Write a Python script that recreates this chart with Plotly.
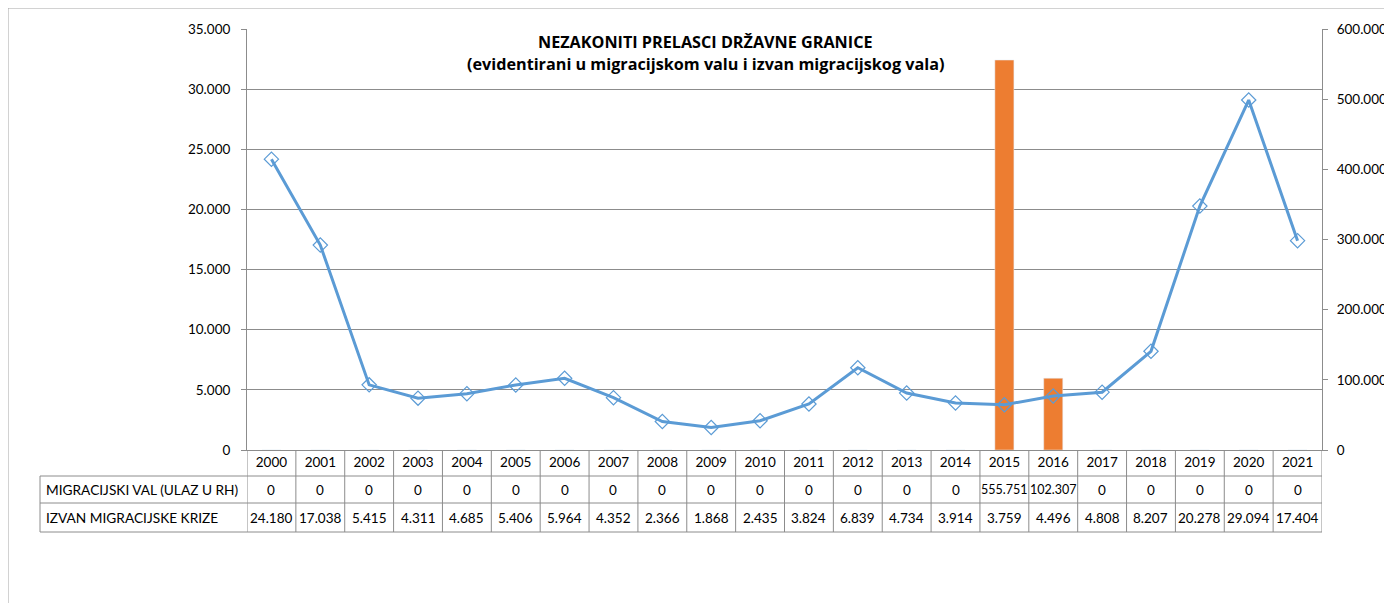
import plotly.graph_objects as go

years = [str(y) for y in range(2000, 2022)]
migracijski_val = [0] * 15 + [555751, 102307] + [0] * 5
izvan_krize = [24180, 17038, 5415, 4311, 4685, 5406, 5964, 4352, 2366, 1868, 2435,
               3824, 6839, 4734, 3914, 3759, 4496, 4808, 8207, 20278, 29094, 17404]
row_labels = ["MIGRACIJSKI VAL (ULAZ U RH)", "IZVAN MIGRACIJSKE KRIZE"]
title_lines = ["NEZAKONITI PRELASCI DRŽAVNE GRANICE",
               "(evidentirani u migracijskom valu i izvan migracijskog vala)"]

FONT = "Lato, Open Sans, sans-serif"
GRID = "#8c8c8c"
BLUE = "#5B9BD5"
ORANGE = "#ED7D31"

# page body has an 8px margin, so the figure is drawn 8px in from the window edge
OFF = 8
W, H = 1392 - OFF, 603 - OFF
ML, MT = 247 - OFF, 29 - OFF
PW, PH = 1075, 421
MR, MB = W - ML - PW, H - MT - PH


def py(px):  # window pixel row -> paper y
    return (450 - px) / PH


def pxx(px):  # window pixel col -> paper x
    return (px - 247) / PW


def fmt(v):
    return f"{v:,}".replace(",", ".")


fig = go.Figure()

# bars on the right-hand (primary) axis so the line overlay sits on top
fig.add_trace(go.Bar(x=years, y=migracijski_val, name=row_labels[0],
                     marker=dict(color=ORANGE), width=0.39, yaxis="y"))
fig.add_trace(go.Scatter(x=years, y=izvan_krize, name=row_labels[1], yaxis="y2",
                         mode="lines+markers",
                         line=dict(color=BLUE, width=3),
                         marker=dict(symbol="diamond-open", size=11, color=BLUE,
                                     line=dict(width=1.2, color=BLUE))))

shapes = []
# table rows: header (years) / val / izvan
row_edges = [450, 476, 503, 532]
left_edge = pxx(40)
n = len(years)
for i in range(n + 1):
    shapes.append(dict(type="line", xref="x", yref="paper", x0=i - 0.5, x1=i - 0.5,
                       y0=py(row_edges[0]), y1=py(row_edges[-1]),
                       line=dict(color=GRID, width=1)))
for e in row_edges[1:]:
    shapes.append(dict(type="line", xref="paper", yref="paper", x0=left_edge, x1=1,
                       y0=py(e), y1=py(e), line=dict(color=GRID, width=1)))
shapes.append(dict(type="line", xref="paper", yref="paper", x0=left_edge, x1=left_edge,
                   y0=py(row_edges[1]), y1=py(row_edges[-1]),
                   line=dict(color=GRID, width=1)))
# outer chart frame
shapes.append(dict(type="rect", xref="paper", yref="paper", x0=pxx(8), x1=1.2,
                   y0=-0.6, y1=py(8), line=dict(color="#a6a6a6", width=1)))

annotations = []
for r, series in enumerate([migracijski_val, izvan_krize]):
    yc = py((row_edges[r + 1] + row_edges[r + 2]) / 2)
    annotations.append(dict(xref="paper", yref="paper", x=pxx(44), y=yc,
                            xanchor="left", yanchor="middle", showarrow=False,
                            text=row_labels[r], font=dict(size=13.7, color="black")))
    for i, v in enumerate(series):
        size = 12.5 if v >= 100000 else 13.5
        annotations.append(dict(xref="x", yref="paper", x=i, y=yc,
                                xanchor="center", yanchor="middle", showarrow=False,
                                text=fmt(v), font=dict(size=size, color="black")))

for line_txt, yy in zip(title_lines, [42, 64]):
    annotations.append(dict(xref="paper", yref="paper", x=pxx(705), y=py(yy),
                            xanchor="center", yanchor="middle", showarrow=False,
                            text="<b>" + line_txt + "</b>",
                            font=dict(family="Open Sans, sans-serif", size=16.2,
                                      color="black")))

fig.update_layout(
    width=W, height=H,
    margin=dict(l=ML, r=MR, t=MT, b=MB, autoexpand=False),
    paper_bgcolor="white", plot_bgcolor="white",
    separators=",.",
    showlegend=False,
    font=dict(family=FONT, size=13.5, color="black"),
    xaxis=dict(type="category", range=[-0.5, len(years) - 0.5], autorange=False,
               showline=True, linecolor=GRID, ticks="",
               showgrid=False, tickfont=dict(size=13.5), fixedrange=True),
    yaxis=dict(side="right", range=[0, 600000], dtick=100000, tickformat=",d",
               showgrid=False, showline=True, linecolor=GRID, ticks="outside",
               ticklen=5, tickcolor=GRID, zeroline=False, ticklabelstandoff=6),
    yaxis2=dict(side="left", overlaying="y", range=[0, 35000], dtick=5000,
                tickformat=",d", showgrid=True, gridcolor=GRID, showline=True,
                linecolor=GRID, ticks="outside", ticklen=5, tickcolor=GRID,
                zeroline=False, ticklabelstandoff=8),
    bargap=0.6,
    shapes=shapes,
    annotations=annotations,
)

fig.write_html("out.html")
